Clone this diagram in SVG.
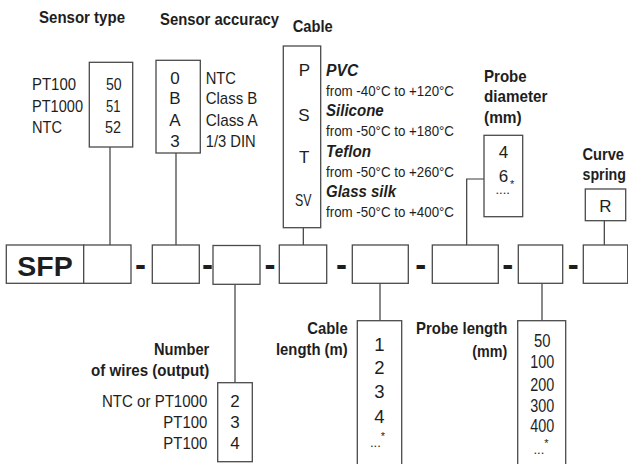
<svg xmlns="http://www.w3.org/2000/svg" width="628" height="464" viewBox="0 0 628 464">
<style>
text{font-family:"Liberation Sans Narrow","Liberation Sans",Arial,sans-serif;fill:#1e1e1e;}
.t{font-weight:bold;font-size:17px;}
.r{font-size:17px;}
.s{font-size:15.5px;}
.bi{font-weight:bold;font-style:italic;font-size:16px;}
.n{font-size:18.5px;}
.m{text-anchor:middle;}
.e{text-anchor:end;}
.d{font-weight:bold;font-size:33px;text-anchor:middle;}
.dt{font-size:13px;}
rect{fill:#fff;stroke:#4a4a4a;stroke-width:1.3;}
.ln{fill:none;stroke:#3a3a3a;stroke-width:1.2;}
</style>
<rect x="0" y="0" width="628" height="464" style="stroke:none"/>
<g id="connectors">
<line class="ln" x1="110" y1="147" x2="110" y2="245"/>
<line class="ln" x1="176" y1="153" x2="176" y2="245"/>
<line class="ln" x1="303.3" y1="227.7" x2="303.3" y2="245"/>
<polyline class="ln" points="484,179 466.7,179 466.7,245"/>
<line class="ln" x1="604.3" y1="221" x2="604.3" y2="245"/>
<line class="ln" x1="235" y1="284" x2="235" y2="382.7"/>
<line class="ln" x1="380" y1="283.3" x2="380" y2="320.7"/>
<line class="ln" x1="542" y1="283.3" x2="542" y2="320.7"/>
</g>
<g id="code-row">
<rect x="6.3" y="245" width="77.4" height="38.3"/>
<text x="45" y="276" style="font-family:'Liberation Sans',Arial,sans-serif;font-weight:bold;font-size:28.5px;text-anchor:middle">SFP</text>
<rect x="83.7" y="245" width="47.3" height="38.3"/>
<text class="d" x="140.5" y="276">-</text>
<rect x="152.3" y="245" width="47" height="38.3"/>
<text class="d" x="207.5" y="276">-</text>
<rect x="213" y="245.5" width="47" height="38.8"/>
<text class="d" x="270" y="276">-</text>
<rect x="279.3" y="245" width="47.4" height="38.3"/>
<text class="d" x="341.4" y="276">-</text>
<rect x="352.3" y="245" width="56" height="38.3"/>
<text class="d" x="420.8" y="276">-</text>
<rect x="432.3" y="245" width="66" height="38.3"/>
<text class="d" x="507.8" y="276">-</text>
<rect x="518.3" y="245" width="44.4" height="38.3"/>
<text class="d" x="573.2" y="276">-</text>
<rect x="583.3" y="245" width="44.4" height="38.3"/>
</g>
<g id="sensor-type">
<text class="t" x="39" y="23" textLength="86" lengthAdjust="spacingAndGlyphs">Sensor type</text>
<rect x="89.3" y="62.3" width="43.4" height="84.7"/>
<text class="r" x="32" y="90" textLength="44" lengthAdjust="spacingAndGlyphs">PT100</text>
<text class="r" x="32" y="111.7" textLength="51" lengthAdjust="spacingAndGlyphs">PT1000</text>
<text class="r" x="32" y="132.7" textLength="30" lengthAdjust="spacingAndGlyphs">NTC</text>
<text class="r" x="106" y="90" textLength="15.7" lengthAdjust="spacingAndGlyphs">50</text>
<text class="r" x="106" y="111.7" textLength="14.5" lengthAdjust="spacingAndGlyphs">51</text>
<text class="r" x="105" y="132.7" textLength="16" lengthAdjust="spacingAndGlyphs">52</text>
</g>
<g id="sensor-accuracy">
<text class="t" x="160" y="25" textLength="119" lengthAdjust="spacingAndGlyphs">Sensor accuracy</text>
<rect x="156" y="60.3" width="44.3" height="92.7"/>
<text class="r m" x="175" y="83.5">0</text>
<text class="r m" x="175" y="104">B</text>
<text class="r m" x="175" y="125.5">A</text>
<text class="r m" x="175" y="146.5">3</text>
<text class="r" x="205.7" y="83.5" textLength="30.3" lengthAdjust="spacingAndGlyphs">NTC</text>
<text class="r" x="205.7" y="104" textLength="51.7" lengthAdjust="spacingAndGlyphs">Class B</text>
<text class="r" x="205.7" y="125.5" textLength="52" lengthAdjust="spacingAndGlyphs">Class A</text>
<text class="r" x="205.7" y="146.5" textLength="50" lengthAdjust="spacingAndGlyphs">1/3 DIN</text>
</g>
<g id="cable">
<text class="t" x="292.7" y="31.7" textLength="40" lengthAdjust="spacingAndGlyphs">Cable</text>
<rect x="283.3" y="46" width="37.4" height="181.7"/>
<text class="r m" x="304.3" y="76">P</text>
<text class="r m" x="304" y="120.7">S</text>
<text class="r m" x="304.3" y="162.7">T</text>
<text class="r m" x="303.3" y="206" textLength="16.5" lengthAdjust="spacingAndGlyphs">SV</text>
<text class="bi" x="326" y="76" textLength="32.3" lengthAdjust="spacingAndGlyphs">PVC</text>
<text class="s" x="326" y="96" textLength="128" lengthAdjust="spacingAndGlyphs">from -40°C to +120°C</text>
<text class="bi" x="326" y="115.7" textLength="57.7" lengthAdjust="spacingAndGlyphs">Silicone</text>
<text class="s" x="326" y="136" textLength="128" lengthAdjust="spacingAndGlyphs">from -50°C to +180°C</text>
<text class="bi" x="326" y="156.5" textLength="45" lengthAdjust="spacingAndGlyphs">Teflon</text>
<text class="s" x="326" y="176.5" textLength="128" lengthAdjust="spacingAndGlyphs">from -50°C to +260°C</text>
<text class="bi" x="326" y="197" textLength="70" lengthAdjust="spacingAndGlyphs">Glass silk</text>
<text class="s" x="326" y="217" textLength="128" lengthAdjust="spacingAndGlyphs">from -50°C to +400°C</text>
</g>
<g id="probe-diameter">
<text class="t" x="484" y="81.5" textLength="42.7" lengthAdjust="spacingAndGlyphs">Probe</text>
<text class="t" x="484" y="102" textLength="63.3" lengthAdjust="spacingAndGlyphs">diameter</text>
<text class="t" x="484" y="122.5" textLength="37.7" lengthAdjust="spacingAndGlyphs">(mm)</text>
<rect x="484" y="135.3" width="38.7" height="81.4"/>
<text class="r m" x="503.5" y="158.3">4</text>
<text class="r m" x="503.5" y="181.7">6</text>
<text class="dt" x="495.5" y="194">....<tspan dy="-6" font-size="11">*</tspan></text>
</g>
<g id="curve-spring">
<text class="t" x="582.5" y="160" textLength="41.5" lengthAdjust="spacingAndGlyphs">Curve</text>
<text class="t" x="582.5" y="180" textLength="43.5" lengthAdjust="spacingAndGlyphs">spring</text>
<rect x="585.3" y="189" width="40.4" height="31.7"/>
<text class="r m" x="605.5" y="212">R</text>
</g>
<g id="wires">
<text class="t e" x="209.3" y="355" textLength="55.3" lengthAdjust="spacingAndGlyphs">Number</text>
<text class="t e" x="209.3" y="376" textLength="118.3" lengthAdjust="spacingAndGlyphs">of wires (output)</text>
<rect x="217.7" y="382.7" width="34.6" height="79"/>
<text class="r e" x="207.3" y="406.7" textLength="105.3" lengthAdjust="spacingAndGlyphs">NTC or PT1000</text>
<text class="r e" x="207.3" y="428.3" textLength="44" lengthAdjust="spacingAndGlyphs">PT100</text>
<text class="r e" x="207.3" y="449" textLength="44" lengthAdjust="spacingAndGlyphs">PT100</text>
<text class="r m" x="235" y="406.7">2</text>
<text class="r m" x="235" y="428.3">3</text>
<text class="r m" x="235" y="449">4</text>
</g>
<g id="cable-length">
<text class="t e" x="347.7" y="334.3" textLength="40.4" lengthAdjust="spacingAndGlyphs">Cable</text>
<text class="t e" x="347.7" y="355" textLength="71.7" lengthAdjust="spacingAndGlyphs">length (m)</text>
<rect x="357.3" y="320.7" width="44.4" height="160"/>
<text class="n m" x="379.3" y="350.7">1</text>
<text class="n m" x="379.3" y="374">2</text>
<text class="n m" x="379.3" y="398.3">3</text>
<text class="n m" x="379.3" y="423.3">4</text>
<text class="dt" x="370" y="447">...<tspan dy="-7" font-size="11">*</tspan></text>
</g>
<g id="probe-length">
<text class="t e" x="507.3" y="334.3" textLength="91.3" lengthAdjust="spacingAndGlyphs">Probe length</text>
<text class="t e" x="507.3" y="357" textLength="35" lengthAdjust="spacingAndGlyphs">(mm)</text>
<rect x="517.7" y="320.7" width="48" height="160"/>
<text class="n m" x="542.3" y="347.3" textLength="16.5" lengthAdjust="spacingAndGlyphs">50</text>
<text class="n m" x="542.3" y="367.7" textLength="24" lengthAdjust="spacingAndGlyphs">100</text>
<text class="n m" x="542.3" y="391" textLength="24" lengthAdjust="spacingAndGlyphs">200</text>
<text class="n m" x="542.3" y="411.7" textLength="24" lengthAdjust="spacingAndGlyphs">300</text>
<text class="n m" x="542.3" y="432.3" textLength="24" lengthAdjust="spacingAndGlyphs">400</text>
<text class="dt" x="533.5" y="454">...<tspan dy="-7" font-size="11">*</tspan></text>
</g>
</svg>
